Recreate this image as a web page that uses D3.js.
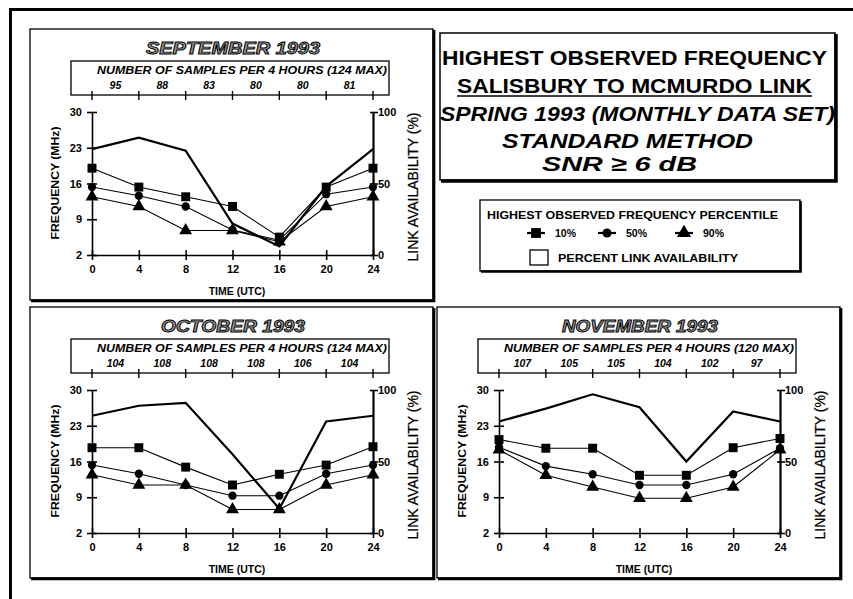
<!DOCTYPE html>
<html><head><meta charset="utf-8">
<script src="https://cdn.jsdelivr.net/npm/d3@7"></script>
<style>
body{margin:0;background:#fff;}
svg{display:block;font-family:"Liberation Sans",Arial,Helvetica,sans-serif;}
</style></head><body>
<svg id="c" width="853" height="599"></svg>
<script>
// ---------- data ----------
const hours = [0, 4, 8, 12, 16, 20, 24];
const freqTicks = [2, 9, 16, 23, 30];
const availTicks = [0, 50, 100];
const monthTitles = ["SEPTEMBER 1993", "OCTOBER 1993", "NOVEMBER 1993"];
const samplesMax = [124, 124, 120];

const sepSamples = [95, 88, 83, 80, 80, 81];
const sep10 = [19.0, 15.3, 13.4, 11.5, 5.5, 15.3, 19.0];
const sep50 = [15.3, 13.6, 11.5, 6.9, 4.9, 13.9, 15.3];
const sep90 = [13.4, 11.5, 6.8, 6.8, 4.6, 11.5, 13.4];
const sepAvail = [74, 82, 73, 22, 6, 48, 74];

const octSamples = [104, 108, 108, 108, 106, 104];
const oct10 = [18.7, 18.7, 14.9, 11.4, 13.5, 15.3, 18.9];
const oct50 = [15.3, 13.6, 11.4, 9.3, 9.3, 13.6, 15.3];
const oct90 = [13.4, 11.4, 11.4, 6.6, 6.6, 11.4, 13.4];
const octAvail = [82, 89, 91, 55, 17, 78, 82];

const novSamples = [107, 105, 105, 104, 102, 97];
const nov10 = [20.3, 18.6, 18.6, 13.3, 13.3, 18.7, 20.5];
const nov50 = [18.8, 15.1, 13.5, 11.4, 11.4, 13.5, 18.6];
const nov90 = [18.3, 13.3, 11.0, 8.8, 8.8, 11.0, 18.3];
const novAvail = [78, 87, 97, 88, 50, 85, 78];

const titleLines = ["HIGHEST OBSERVED FREQUENCY", "SALISBURY TO MCMURDO LINK",
  "SPRING 1993 (MONTHLY DATA SET)", "STANDARD METHOD", "SNR \u2265 6 dB"];
const legendTitle = "HIGHEST OBSERVED FREQUENCY PERCENTILE";
const percentileLabels = ["10%", "50%", "90%"];
const availLabel = "PERCENT LINK AVAILABILITY";

// ---------- drawing ----------
const svg = d3.select("#c");
svg.append("rect").attr("width", 853).attr("height", 599).attr("fill", "#fff");

// outer frame (left and top visible)
svg.append("path").attr("d", "M10.5,640 V9.5 H880")
  .attr("fill", "none").attr("stroke", "#000").attr("stroke-width", 3);

function shadowBox(g, x, y, w, h, thin, thick) {
  g.append("rect").attr("x", x).attr("y", y).attr("width", w).attr("height", h)
    .attr("fill", "#fff").attr("stroke", "#000").attr("stroke-width", thin);
  g.append("path").attr("d", `M${x + w + thick / 2 - thin / 2},${y + 1} V${y + h + thick / 2 - thin / 2} H${x + 1}`)
    .attr("fill", "none").attr("stroke", "#000").attr("stroke-width", thick);
}

const symbols = [d3.symbolSquare, d3.symbolCircle, d3.symbolTriangle];
const symSizes = [80, 54, 72];

const panels = [
  {title: monthTitles[0], max: samplesMax[0], samples: sepSamples, series: [sep10, sep50, sep90], avail: sepAvail},
  {title: monthTitles[1], max: samplesMax[1], samples: octSamples, series: [oct10, oct50, oct90], avail: octAvail},
  {title: monthTitles[2], max: samplesMax[2], samples: novSamples, series: [nov10, nov50, nov90], avail: novAvail}
];
const panelLayout = [
  {x: 30, y: 29, titleLen: 174},
  {x: 30, y: 307, titleLen: 144},
  {x: 437, y: 307, titleLen: 156}
];
const W = 403, H = 271;

panels.forEach((p, i) => {
  const L = panelLayout[i];
  const g = svg.append("g").attr("transform", `translate(${L.x},${L.y})`);
  shadowBox(g, 0, 0, W, H, 1.3, 3);

  const xs = d3.scaleLinear().domain([0, 24]).range([62, 343]);
  const yf = d3.scaleLinear().domain([2, 30]).range([226, 83]);
  const ya = d3.scaleLinear().domain([0, 100]).range([226, 83]);

  // month title (outline style)
  g.append("text").attr("x", 203).attr("y", 25).attr("text-anchor", "middle")
    .attr("font-size", 16).attr("font-weight", "bold").attr("font-style", "italic")
    .attr("textLength", L.titleLen).attr("lengthAdjust", "spacingAndGlyphs")
    .attr("fill", "#9a9a9a").attr("stroke", "#000").attr("stroke-width", 0.9)
    .text(p.title);

  // samples box
  g.append("rect").attr("x", 41).attr("y", 32).attr("width", 318).attr("height", 34)
    .attr("fill", "none").attr("stroke", "#000").attr("stroke-width", 1.3);
  g.append("text").attr("x", 212).attr("y", 45).attr("text-anchor", "middle")
    .attr("font-size", 10).attr("font-weight", "bold").attr("font-style", "italic")
    .attr("textLength", 290).attr("lengthAdjust", "spacingAndGlyphs")
    .text(`NUMBER OF SAMPLES PER 4 HOURS (${p.max} MAX)`);
  g.selectAll(".stick").data(hours).enter().append("line")
    .attr("x1", d => xs(d)).attr("x2", d => xs(d)).attr("y1", 62).attr("y2", 71)
    .attr("stroke", "#000").attr("stroke-width", 1.4);
  g.selectAll(".sval").data(p.samples).enter().append("text")
    .attr("x", (d, k) => (xs(hours[k]) + xs(hours[k + 1])) / 2).attr("y", 60)
    .attr("text-anchor", "middle").attr("font-size", 10.5).attr("font-weight", "bold")
    .attr("font-style", "italic").text(d => d);

  // axes
  const axL = g.append("g").attr("transform", "translate(62,0)")
    .call(d3.axisLeft(yf).tickValues(freqTicks).tickSize(5).tickSizeOuter(0));
  axL.selectAll(".tick line").attr("x1", 5);
  axL.selectAll(".tick text").attr("x", -10);
  const axR = g.append("g").attr("transform", "translate(343,0)")
    .call(d3.axisRight(ya).tickValues(availTicks).tickSize(5).tickSizeOuter(0));
  axR.selectAll(".tick line").attr("x1", -3);
  axR.selectAll(".tick text").attr("x", 5);
  const axB = g.append("g").attr("transform", "translate(0,226)")
    .call(d3.axisBottom(xs).tickValues(hours).tickSize(5).tickSizeOuter(0));
  axB.selectAll(".tick line").attr("y1", -5);
  axB.selectAll(".tick text").attr("y", 10);
  [axL, axR, axB].forEach(a => {
    a.attr("font-family", null).attr("font-size", 11).attr("font-weight", "bold");
    a.selectAll(".domain").attr("stroke-width", 1.6);
    a.selectAll(".tick line").attr("stroke-width", 1.6);
  });
  axR.select(".domain").attr("stroke-width", 2.2);

  // axis labels
  g.append("text").attr("transform", "translate(29,154) rotate(-90)")
    .attr("text-anchor", "middle").attr("font-size", 11).attr("font-weight", "bold")
    .attr("textLength", 113).attr("lengthAdjust", "spacingAndGlyphs")
    .text("FREQUENCY (MHz)");
  g.append("text").attr("transform", "translate(388,158) rotate(-90)")
    .attr("text-anchor", "middle").attr("font-size", 15)
    .attr("stroke", "#000").attr("stroke-width", 0.25)
    .attr("textLength", 149).attr("lengthAdjust", "spacingAndGlyphs")
    .text("LINK AVAILABILITY (%)");
  g.append("text").attr("x", 207).attr("y", 266).attr("text-anchor", "middle")
    .attr("font-size", 10.5).attr("font-weight", "bold").text("TIME (UTC)");

  // availability line
  g.append("path").datum(p.avail)
    .attr("d", d3.line().x((d, k) => xs(hours[k])).y(d => ya(d)))
    .attr("fill", "none").attr("stroke", "#000").attr("stroke-width", 2.2);

  // percentile lines + markers
  p.series.forEach((s, j) => {
    g.append("path").datum(s)
      .attr("d", d3.line().x((d, k) => xs(hours[k])).y(d => yf(d)))
      .attr("fill", "none").attr("stroke", "#000").attr("stroke-width", 1.1);
    g.selectAll(".m" + j).data(s).enter().append("path")
      .attr("transform", (d, k) => `translate(${xs(hours[k])},${yf(d)})`)
      .attr("d", d3.symbol().type(symbols[j]).size(symSizes[j]))
      .attr("fill", "#000");
  });
});

// title box
const tb = svg.append("g");
shadowBox(tb, 440, 33, 395, 147, 1.5, 3.5);
const tlCfg = [
  {y: 65, len: 385, cx: 634.5, it: false},
  {y: 93, len: 355, cx: 634.5, it: false},
  {y: 121, len: 395, cx: 637.5, it: true},
  {y: 148, len: 251, cx: 627.5, it: true},
  {y: 171, len: 155, cx: 619.5, it: true}
];
titleLines.forEach((t, i) => {
  const c = tlCfg[i];
  tb.append("text").attr("x", c.cx).attr("y", c.y).attr("text-anchor", "middle")
    .attr("font-size", 21).attr("font-weight", "bold").attr("font-style", c.it ? "italic" : "normal")
    .attr("textLength", c.len).attr("lengthAdjust", "spacingAndGlyphs").text(t);
});
tb.append("line").attr("x1", 457).attr("x2", 812).attr("y1", 96).attr("y2", 96)
  .attr("stroke", "#000").attr("stroke-width", 1.6);

// legend box
const lg = svg.append("g");
shadowBox(lg, 480, 200, 320, 71, 1.3, 2.5);
lg.append("text").attr("x", 487).attr("y", 219).attr("font-size", 10).attr("font-weight", "bold")
  .attr("textLength", 291).attr("lengthAdjust", "spacingAndGlyphs").text(legendTitle);
const legX = [536, 607, 684];
percentileLabels.forEach((t, j) => {
  const cx = legX[j];
  lg.append("line").attr("x1", cx - 9).attr("x2", cx + 9).attr("y1", 233).attr("y2", 233)
    .attr("stroke", "#000").attr("stroke-width", 2.2);
  lg.append("path").attr("transform", `translate(${cx},233)`)
    .attr("d", d3.symbol().type(symbols[j]).size(symSizes[j] * 1.2)).attr("fill", "#000");
  lg.append("text").attr("x", cx + 19).attr("y", 237).attr("font-size", 10.5).attr("font-weight", "bold").text(t);
});
lg.append("rect").attr("x", 530).attr("y", 250).attr("width", 18).attr("height", 15)
  .attr("fill", "#fff").attr("stroke", "#000").attr("stroke-width", 1.3);
lg.append("text").attr("x", 558).attr("y", 262).attr("font-size", 10).attr("font-weight", "bold")
  .attr("textLength", 180).attr("lengthAdjust", "spacingAndGlyphs").text(availLabel);
</script>
</body></html>
